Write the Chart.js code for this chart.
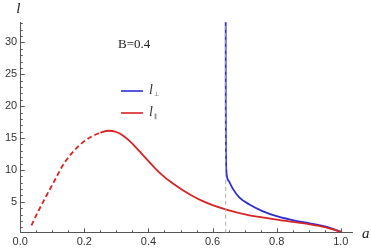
<!DOCTYPE html>
<html><head><meta charset="utf-8">
<script src="https://cdn.jsdelivr.net/npm/chart.js@4"></script>
<style>html,body{margin:0;padding:0;background:#fff}#w{width:371px;height:248px}</style>
</head><body><div id="w"><canvas id="c"></canvas></div>
<script>
// ---- data ----
const redDashedA = [0.035, 0.053, 0.08, 0.11, 0.135, 0.166, 0.197, 0.225, 0.25];
const redDashedL = [1.3, 3.2, 5.8, 8.6, 10.9, 12.9, 14.4, 15.3, 15.85];
const redSolidA = [0.25, 0.274, 0.30, 0.32, 0.34, 0.36, 0.38, 0.40, 0.42, 0.443, 0.47, 0.505, 0.535, 0.566, 0.60, 0.643, 0.705, 0.75, 0.8, 0.85, 0.9, 0.95, 1.0];
const redSolidL = [15.85, 16.15, 15.95, 15.4, 14.6, 13.6, 12.5, 11.4, 10.3, 9.2, 8.1, 6.9, 6.0, 5.2, 4.5, 3.8, 3.0, 2.6, 2.2, 1.85, 1.5, 1.05, 0.3];
const blueA = [0.641, 0.6412, 0.6418, 0.643, 0.650, 0.664, 0.684, 0.715, 0.756, 0.797, 0.85, 0.9, 0.95, 1.0];
const blueL = [33.2, 20, 13, 9.9, 8.3, 7.0, 5.65, 4.6, 3.55, 2.8, 2.15, 1.65, 1.15, 0.3];
const criticalA = 0.641;
const xTickValues = [0, 0.2, 0.4, 0.6, 0.8, 1.0];
const yTickValues = [5, 10, 15, 20, 25, 30];
const xMinorStep = 0.05, yMinorStep = 1;
const xRange = [0, 1.035], yRange = [0.15, 33.2];
const annotationText = "B=0.4";
const legendItems = [{sub: "\u22A5", color: "rgb(45,45,215)"}, {sub: "\u2225", color: "rgb(215,35,35)"}];
const xAxisTitle = "a", yAxisTitle = "l";

const pts = (xs, ys) => xs.map((x, i) => ({x, y: ys[i]}));
const BLUE = legendItems[0].color, RED = legendItems[1].color;

const deco = {
  id: 'deco',
  beforeDatasetsDraw(chart) {
    const {ctx, scales: {x, y}} = chart;
    ctx.save();
    ctx.strokeStyle = '#555'; ctx.lineWidth = 1;
    for (let v = 0; v <= xRange[1] + 1e-9; v += xMinorStep) {
      const major = xTickValues.some(t => Math.abs(t - v) < 1e-6);
      const px = Math.round(x.getPixelForValue(v)) + 0.5;
      ctx.beginPath(); ctx.moveTo(px, y.bottom); ctx.lineTo(px, y.bottom - (major ? 4.5 : 2.5)); ctx.stroke();
    }
    for (let v = 1; v <= yRange[1] + 1e-9; v += yMinorStep) {
      const major = yTickValues.some(t => Math.abs(t - v) < 1e-6);
      const py = Math.round(y.getPixelForValue(v)) + 0.5;
      ctx.beginPath(); ctx.moveTo(x.left, py); ctx.lineTo(x.left + (major ? 4.5 : 2.5), py); ctx.stroke();
    }
    ctx.restore();
  },
  afterDraw(chart) {
    const {ctx, scales: {x, y}} = chart;
    ctx.save();
    ctx.fillStyle = '#222';
    ctx.font = 'italic 15px "Liberation Serif"';
    ctx.textBaseline = 'middle';
    ctx.textAlign = 'left';
    ctx.fillText(xAxisTitle, x.right + 10, y.bottom + 1);
    ctx.fillText(yAxisTitle, x.left - 4, 9);
    ctx.font = '13px "Liberation Serif"';
    ctx.fillText(annotationText, 118, 45);
    legendItems.forEach((it, i) => {
      const ly = 91 + i * 22;
      ctx.strokeStyle = it.color; ctx.lineWidth = 1.6;
      ctx.beginPath(); ctx.moveTo(121, ly); ctx.lineTo(143, ly); ctx.stroke();
      ctx.fillStyle = '#333';
      ctx.font = 'italic 14px "Liberation Serif"';
      ctx.fillText(yAxisTitle, 149, ly - 1);
      ctx.font = '6px "DejaVu Sans"';
      ctx.fillText(it.sub, 154, ly + 3);
    });
    ctx.restore();
  }
};

new Chart(document.getElementById('c'), {
  type: 'scatter',
  data: {
    datasets: [
      {data: [{x: criticalA, y: yRange[0]}, {x: criticalA, y: yRange[1]}], showLine: true, borderColor: '#aaa', borderWidth: 1, borderDash: [4, 3], pointRadius: 0},
      {data: pts(redDashedA, redDashedL), showLine: true, borderColor: RED, borderWidth: 1.8, borderDash: [5, 3], pointRadius: 0, cubicInterpolationMode: 'monotone'},
      {data: pts(redSolidA, redSolidL), showLine: true, borderColor: RED, borderWidth: 1.8, pointRadius: 0, cubicInterpolationMode: 'monotone'},
      {data: pts(blueA, blueL), showLine: true, borderColor: BLUE, borderWidth: 1.8, pointRadius: 0, cubicInterpolationMode: 'monotone'}
    ]
  },
  options: {
    responsive: true, maintainAspectRatio: false, animation: false,
    layout: {padding: {left: 2, right: 19, top: 22, bottom: -4}},
    plugins: {legend: {display: false}, tooltip: {enabled: false}},
    scales: {
      x: {
        type: 'linear', min: xRange[0], max: xRange[1],
        afterBuildTicks: s => { s.ticks = xTickValues.map(v => ({value: v})); },
        ticks: {callback: v => v.toFixed(1), color: '#333', font: {family: 'Liberation Sans', size: 11}, padding: 3, maxRotation: 0, autoSkip: false},
        grid: {display: true, drawOnChartArea: false, drawTicks: false},
        border: {color: '#555', width: 1}
      },
      y: {
        type: 'linear', min: yRange[0], max: yRange[1],
        afterBuildTicks: s => { s.ticks = yTickValues.map(v => ({value: v})); },
        ticks: {color: '#333', font: {family: 'Liberation Sans', size: 11}, padding: 3, autoSkip: false},
        grid: {display: true, drawOnChartArea: false, drawTicks: false},
        border: {color: '#555', width: 1}
      }
    }
  },
  plugins: [deco]
});
</script></body></html>
